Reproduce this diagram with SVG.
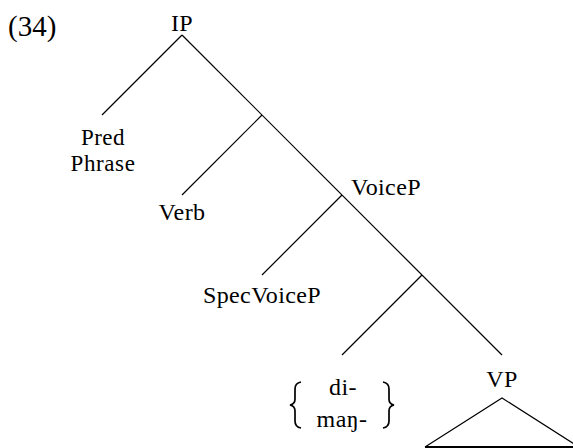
<svg xmlns="http://www.w3.org/2000/svg" width="573" height="448" viewBox="0 0 573 448">
<style>
text{font-family:"Liberation Serif","Times New Roman",serif;font-size:24px;letter-spacing:0.4px;fill:#000}
.m{text-anchor:middle}
.e{stroke:#000;stroke-width:1.2;fill:none}
.b{stroke:#000;stroke-width:1.7;fill:none}
</style>
<rect width="573" height="448" fill="#fff"/>
<text id="num" x="8" y="36" style="font-size:29px;letter-spacing:0">(34)</text>
<g id="connectors">
<line class="e" x1="182" y1="35" x2="502" y2="355"/>
<line class="e" x1="182" y1="35" x2="102" y2="115"/>
<line class="e" x1="262" y1="115" x2="182" y2="195"/>
<line class="e" x1="342" y1="195" x2="262" y2="275"/>
<line class="e" x1="422" y1="275" x2="342" y2="355"/>
</g>
<g id="IP"><text class="m" x="182" y="31">IP</text></g>
<g id="PredPhrase"><text class="m" x="103" y="145" style="font-size:23px">Pred</text><text class="m" x="103" y="171" style="font-size:23px;letter-spacing:0.6px">Phrase</text></g>
<g id="Verb"><text class="m" x="182" y="220">Verb</text></g>
<g id="VoiceP"><text x="351" y="195">VoiceP</text></g>
<g id="SpecVoiceP"><text class="m" x="262" y="303">SpecVoiceP</text></g>
<g id="Affix">
<path class="b" d="M301,382 Q295,383 295,389 L295,399 Q295,404 290,405 Q295,406 295,411 L295,421 Q295,427 301,428"/>
<path class="b" d="M383,382 Q389,383 389,389 L389,399 Q389,404 394,405 Q389,406 389,411 L389,421 Q389,427 383,428"/>
<text class="m" x="343" y="395">di-</text>
<text class="m" x="342" y="427">maŋ-</text>
</g>
<g id="VP">
<text class="m" x="502" y="387">VP</text>
<path class="e" d="M425,447 L502,398 L579,447"/>
<line x1="425" y1="447" x2="573" y2="447" stroke="#000" stroke-width="2"/>
</g>
</svg>
